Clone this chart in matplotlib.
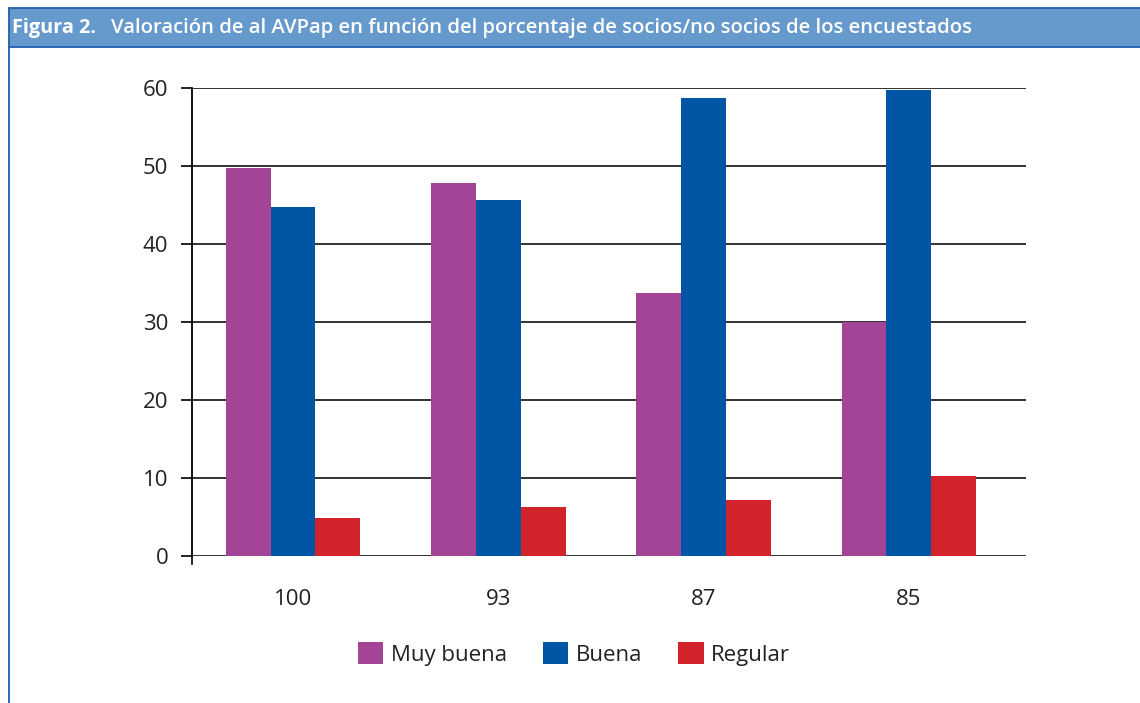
import matplotlib
matplotlib.use("Agg")
from matplotlib import pyplot as plt
from matplotlib.patches import Rectangle, Patch
from matplotlib.lines import Line2D
import numpy as np

# data
categorias = ["100", "93", "87", "85"]
muy_buena = [49.8, 47.8, 33.7, 30.0]
buena = [44.7, 45.7, 58.7, 59.8]
regular = [4.9, 6.3, 7.2, 10.3]
series = ["Muy buena", "Buena", "Regular"]
colores = ["#A34496", "#0055A4", "#D2232A"]

W, H = 1140, 703
plt.rcParams["font.family"] = ["Open Sans", "DejaVu Sans"]

fig = plt.figure(figsize=(W / 100, H / 100), dpi=100)

# title band and frame
def fx(px):
    return px / W

def fy(py):
    return 1 - py / H

fig.patches.append(Rectangle((fx(9), fy(47)), fx(W - 9), (47 - 8) / H,
                             transform=fig.transFigure, facecolor="#6699CC",
                             edgecolor="none"))
for yy in (8, 47):
    fig.add_artist(Line2D([fx(9), 1], [fy(yy), fy(yy)], transform=fig.transFigure,
                          color="#1F5FAF", lw=1.3))
fig.add_artist(Line2D([fx(9), fx(9)], [fy(8), 0], transform=fig.transFigure,
                      color="#1F5FAF", lw=1.3))

fig.text(fx(12), fy(28), "Figura 2.", color="white", fontsize=14.3,
         fontweight="bold", va="center", ha="left")
fig.text(fx(111), fy(28),
         "Valoración de al AVPap en función del porcentaje de socios/no socios de los encuestados",
         color="white", fontsize=14.6, fontweight="semibold", va="center", ha="left")

# plot area
ax = fig.add_axes([fx(192), fy(556), fx(1026 - 192), (556 - 88) / H])
x = np.arange(len(categorias))
w = 0.219
for i, (vals, col) in enumerate(zip([muy_buena, buena, regular], colores)):
    ax.bar(x + (i - 1) * w, vals, width=w, color=col, zorder=3, label=series[i])

ax.set_xlim(-0.492, 3.57)
ax.set_ylim(0, 60)
ax.set_yticks(range(0, 61, 10))
ax.yaxis.grid(True, color="#222222", lw=1.3, zorder=0)
ax.set_axisbelow(True)
for s in ("top", "right", "bottom"):
    ax.spines[s].set_visible(False)
ax.spines["left"].set_color("black")
ax.spines["left"].set_linewidth(1.3)
ax.tick_params(axis="y", length=8, width=1.2, color="black", labelsize=16,
               pad=9, labelcolor="#222222")
ax.set_xticks(x)
ax.set_xticklabels(categorias)
ax.tick_params(axis="x", length=0, labelsize=16, pad=24, labelcolor="#222222")
# small tick at the origin
ax.plot([-0.492, -0.492], [0, -1.0], color="black", lw=1.2, clip_on=False)

handles = [Patch(facecolor=c, edgecolor="none") for c in colores]
fig.legend(handles, series, loc="center", bbox_to_anchor=(fx(574), fy(654)),
           ncol=3, frameon=False, fontsize=16, handlelength=1.15, handleheight=1.15,
           handletextpad=0.35, columnspacing=1.6, labelcolor="#222222")

fig.savefig("out.png", dpi=100)
